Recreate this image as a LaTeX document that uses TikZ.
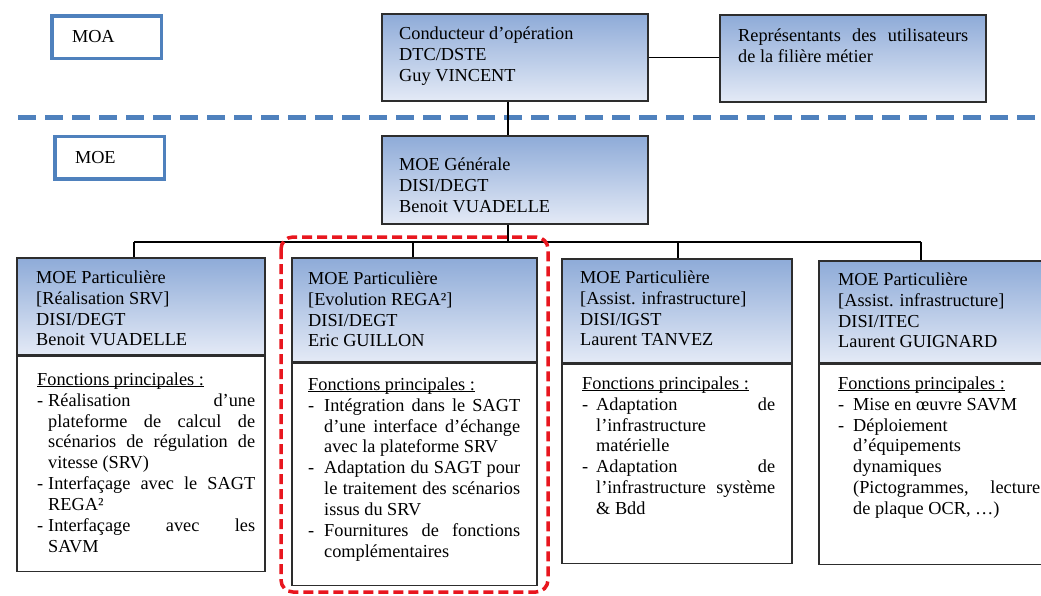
\documentclass[tikz,border=0pt]{standalone}
\usepackage{fontspec}
\setmainfont{Liberation Serif}
\usetikzlibrary{positioning}

\definecolor{moablue}{RGB}{79,129,189}
\definecolor{hdtop}{RGB}{142,171,216}
\definecolor{hdbot}{RGB}{228,234,246}
\definecolor{framered}{RGB}{232,22,30}
\definecolor{boxline}{RGB}{45,45,45}

\newcommand{\fs}{\fontsize{18.3}{20.9}\selectfont}
\newcommand{\fp}{\underline{\smash{Fonctions principales :}}}
\newlength{\tind}
\newcommand{\tiret}[1]{\par\prevdepth=\dp\strutbox\noindent\makebox[\tind][l]{-}%
  \parbox[t]{\dimexpr\hsize-\tind\relax}{#1\strut}}

\tikzset{
  band/.style={draw=moablue, line width=3.5pt, fill=white, minimum width=109.5pt,
    minimum height=42.5pt, text width=69pt, inner xsep=20.25pt, inner ysep=0pt,
    align=left, font=\fs},
  hdr/.style 2 args={draw=boxline, line width=1.2pt, top color=hdtop, bottom color=hdbot,
    minimum width=#1pt, minimum height=#2pt, inner sep=0pt},
  fun/.style={draw=boxline, line width=1.2pt, fill=white, minimum width=#1pt, inner sep=0pt},
  lab/.style={anchor=north west, inner sep=0pt, align=left, font=\fs},
  funtext/.style 2 args={anchor=north west, inner sep=0pt, text width=#1pt, align=justify,
    font=\fs, execute at begin node={\setlength{\tind}{#2pt}}},
  conn/.style={line width=1.2pt, black},
}

\begin{document}
\begin{tikzpicture}[x=1pt,y=-1pt]
\useasboundingbox (0,0) rectangle (1041,595);
\clip (0,0) rectangle (1041,595);
\fill[white] (0,0) rectangle (1041,595);

% MOA / MOE
\node[band] (moa) at (106.5,37) {MOA};
\node[band] (moe) at (109.5,157.5) {MOE};
\draw[moablue, line width=5pt, dash pattern=on 18pt off 9pt] (18,117) -- (1050,117);

% top boxes
\node[hdr={266}{87}] (cond) at (515,57.5) {};
\node[hdr={266}{87}] (rep) at (853,58.5) {};
\node[hdr={266}{88}] (moeg) at (515,180) {};
\node[lab] (lcond) at (399,25) {\strut Conducteur d’opération\\DTC/DSTE\\Guy VINCENT};
\node[lab, text width=230pt, align=justify] (lrep) at (738,26.4)
  {\strut Représentants des utilisateurs \linebreak de la filière métier};
\node[lab] (lmoeg) at (399,155.4) {\strut MOE Générale\\DISI/DEGT\\Benoit VUADELLE};

% particular MOE boxes
\node[hdr={248}{97}] (h1) at (141,306.5) {};
\node[hdr={245}{104}] (h2) at (414.5,310) {};
\node[hdr={230}{104}] (h3) at (677,311) {};
\node[hdr={241}{102}] (h4) at (939.5,312) {};
\node[fun=248, minimum height=215pt, below=0pt of h1] (f1) {};
\node[fun=245, minimum height=222pt, below=0pt of h2] (f2) {};
\node[fun=230, minimum height=199pt, below=0pt of h3] (f3) {};
\node[fun=241, minimum height=200pt, below=0pt of h4] (f4) {};

\node[lab] (l1) at (36,268.4) {\strut MOE Particulière\\{}[Réalisation SRV]\\DISI/DEGT\\Benoit VUADELLE};
\node[lab] (l2) at (308,269.4) {\strut MOE Particulière\\{}[Evolution REGA²]\\DISI/DEGT\\Eric GUILLON};
\node[lab] (l3) at (580,268.4) {\strut MOE Particulière\\{}[Assist. infrastructure]\\DISI/IGST\\Laurent TANVEZ};
\node[lab] (l4) at (838,270.4) {\strut MOE Particulière\\{}[Assist. infrastructure]\\DISI/ITEC\\Laurent GUIGNARD};

\node[funtext={218}{11}] (t1) at (37,370.4) {\noindent\strut\fp
  \tiret{Réalisation d’une \linebreak plateforme de calcul de \linebreak scénarios de régulation de \linebreak vitesse (SRV)}
  \tiret{Interfaçage avec le SAGT \linebreak REGA²}
  \tiret{Interfaçage avec les \linebreak SAVM}};
\node[funtext={212}{16}] (t2) at (308,375.4) {\noindent\strut\fp
  \tiret{Intégration dans le SAGT \linebreak d’une interface d’échange \linebreak avec la plateforme SRV}
  \tiret{Adaptation du SAGT pour \linebreak le traitement des scénarios \linebreak issus du SRV}
  \tiret{Fournitures de fonctions \linebreak complémentaires}};
\node[funtext={193}{14}] (t3) at (582,374.4) {\noindent\strut\fp
  \tiret{Adaptation de \linebreak l’infrastructure \newline matérielle}
  \tiret{Adaptation de \linebreak l’infrastructure système \linebreak \& Bdd}};
\node[funtext={202}{15}] (t4) at (838,374.4) {\noindent\strut\fp
  \tiret{Mise en œuvre SAVM}
  \tiret{Déploiement \newline d’équipements \newline dynamiques \newline (Pictogrammes, lecture \linebreak de plaque OCR, …)}};

% connectors
\coordinate (trunk) at (508,242);
\coordinate (b1) at (134,242);
\coordinate (b2) at (413,242);
\coordinate (b3) at (678,242);
\coordinate (b4) at (921,242);
\draw[conn] (cond.east) -- (cond.east -| rep.west);
\draw[conn] (trunk |- cond.south) -- (trunk |- moeg.north);
\draw[conn] (trunk |- moeg.south) -- (trunk);
\draw[conn] (b1) -- (b4);
\foreach \i in {1,...,4}
  \draw[conn] (b\i) -- (b\i |- h\i.north);

% highlighted column
\draw[framered, line width=3.5pt, dash pattern=on 10pt off 5pt, rounded corners=12pt]
  (281,237) rectangle (548,592);
\end{tikzpicture}
\end{document}
